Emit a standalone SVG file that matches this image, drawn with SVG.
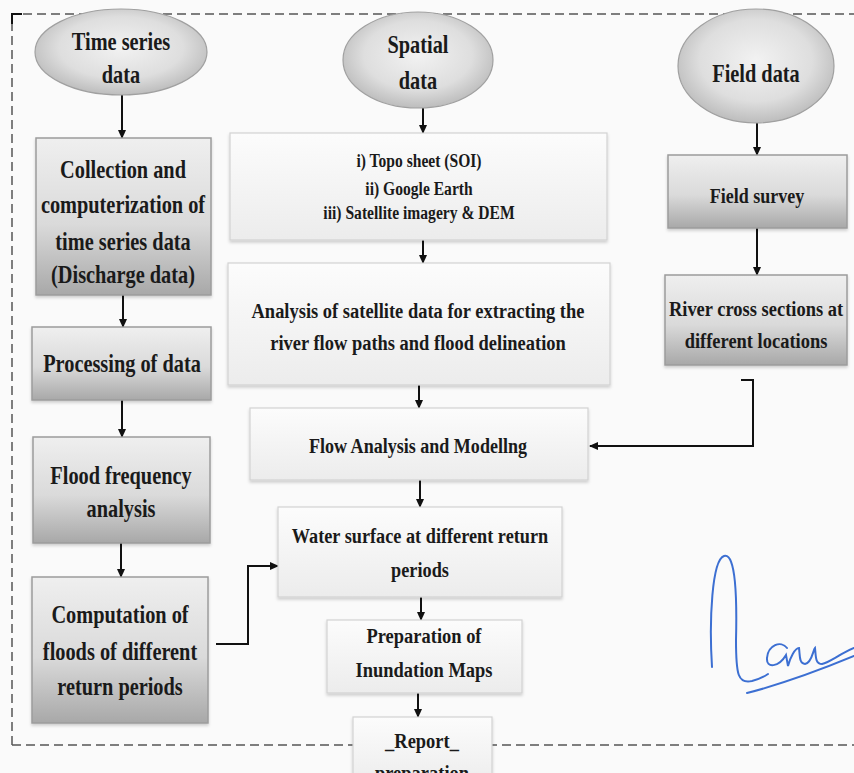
<svg xmlns="http://www.w3.org/2000/svg" width="854" height="773" viewBox="0 0 854 773">
<defs>
<style>
.t{font-family:"Liberation Serif","Times New Roman",serif;font-weight:bold;fill:#1a1a1a;text-anchor:middle}
.big{font-size:24.5px}
.mid{font-size:22px}
.sm{font-size:19.5px}
.bx{fill:url(#gBox);stroke:#9c9c9c;stroke-width:1.5;filter:url(#sh)}
.lt{fill:url(#gLight);stroke:#d2d2d2;stroke-width:1.2;filter:url(#sh)}
.el{fill:url(#gEll);stroke:#a0a0a0;stroke-width:1.2}
.c{fill:none;stroke:#111;stroke-width:2;marker-end:url(#ah)}
.frame{fill:none;stroke:#555;stroke-width:1.5;stroke-dasharray:9 5}
</style>
<linearGradient id="gBox" x1="0" y1="0" x2="0" y2="1">
<stop offset="0" stop-color="#efefef"/>
<stop offset="0.55" stop-color="#dadada"/>
<stop offset="1" stop-color="#a8a8a8"/>
</linearGradient>
<linearGradient id="gLight" x1="0" y1="0" x2="0" y2="1">
<stop offset="0" stop-color="#fcfcfc"/>
<stop offset="1" stop-color="#ececec"/>
</linearGradient>
<radialGradient id="gEll" cx="0.5" cy="0.45" r="0.6">
<stop offset="0" stop-color="#f2f2f2"/>
<stop offset="0.6" stop-color="#dedede"/>
<stop offset="1" stop-color="#b4b4b4"/>
</radialGradient>
<filter id="sh" x="-5%" y="-5%" width="110%" height="115%">
<feDropShadow dx="0" dy="2" stdDeviation="1.5" flood-color="#000" flood-opacity="0.18"/>
</filter>
<marker id="ah" markerUnits="userSpaceOnUse" markerWidth="9" markerHeight="8" refX="8" refY="4" orient="auto">
<path d="M0,0 L9,4 L0,8 z" fill="#111"/>
</marker>
</defs>
<rect width="854" height="773" fill="#fafafa"/>
<path class="frame" d="M12 745 V14 H854 M12 745 H854"/>
<path d="M12 24 V14 H22" fill="none" stroke="#111" stroke-width="2"/>

<g id="connectors">
<path class="c" d="M122 95 V138"/>
<path class="c" d="M123 295 V327"/>
<path class="c" d="M122 400 V437"/>
<path class="c" d="M121 543 V577"/>
<path class="c" d="M216 644 H248 V566 H278"/>
<path class="c" d="M423 108 V133"/>
<path class="c" d="M423 240 V263"/>
<path class="c" d="M419 385 V408"/>
<path class="c" d="M420 480 V507"/>
<path class="c" d="M421 597 V620"/>
<path class="c" d="M418 693 V717"/>
<path class="c" d="M757 123 V155"/>
<path class="c" d="M757 228 V275"/>
<path class="c" d="M741 380 H753 V446 H590"/>
</g>

<g id="time-series">
<ellipse class="el" cx="121" cy="52" rx="86" ry="43"/>
<text class="t big" transform="translate(121,0) scale(0.83,1)"><tspan x="0" y="50">Time series</tspan><tspan x="0" y="83">data</tspan></text>
</g>
<g id="collection">
<rect class="bx" x="36" y="138" width="175" height="157"/>
<text class="t big" transform="translate(123,0) scale(0.83,1)"><tspan x="0" y="178">Collection and</tspan><tspan x="0" y="213">computerization of</tspan><tspan x="0" y="250">time series data</tspan><tspan x="0" y="283">(Discharge data)</tspan></text>
</g>
<g id="processing">
<rect class="bx" x="32" y="327" width="179" height="73"/>
<text class="t big" transform="translate(122,0) scale(0.83,1)"><tspan x="0" y="372">Processing of data</tspan></text>
</g>
<g id="flood-frequency">
<rect class="bx" x="33" y="437" width="177" height="106"/>
<text class="t big" transform="translate(121,0) scale(0.83,1)"><tspan x="0" y="484">Flood frequency</tspan><tspan x="0" y="517">analysis</tspan></text>
</g>
<g id="computation">
<rect class="bx" x="32" y="577" width="176" height="146"/>
<text class="t big" transform="translate(120,0) scale(0.83,1)"><tspan x="0" y="623">Computation of</tspan><tspan x="0" y="660">floods of different</tspan><tspan x="0" y="695">return periods</tspan></text>
</g>

<g id="spatial">
<ellipse class="el" cx="418" cy="60" rx="75" ry="48"/>
<text class="t big" transform="translate(418,0) scale(0.83,1)"><tspan x="0" y="53">Spatial</tspan><tspan x="0" y="89">data</tspan></text>
</g>
<g id="sources">
<rect class="lt" x="230" y="133" width="377" height="107"/>
<text class="t sm" transform="translate(419,0) scale(0.8,1)"><tspan x="0" y="167">i) Topo sheet (SOI)</tspan><tspan x="0" y="195">ii) Google Earth</tspan><tspan x="0" y="219">iii) Satellite imagery &amp; DEM</tspan></text>
</g>
<g id="analysis">
<rect class="lt" x="228" y="263" width="382" height="122"/>
<text class="t mid" transform="translate(418,0) scale(0.84,1)"><tspan x="0" y="318">Analysis of satellite data for extracting the</tspan><tspan x="0" y="350">river flow paths and flood delineation</tspan></text>
</g>
<g id="flow-analysis">
<rect class="lt" x="250" y="408" width="338" height="72"/>
<text class="t mid" transform="translate(418,0) scale(0.82,1)"><tspan x="0" y="453">Flow Analysis and Modellng</tspan></text>
</g>
<g id="water-surface">
<rect class="lt" x="278" y="507" width="284" height="90"/>
<text class="t mid" transform="translate(420,0) scale(0.83,1)"><tspan x="0" y="543">Water surface at different return</tspan><tspan x="0" y="577">periods</tspan></text>
</g>
<g id="inundation">
<rect class="lt" x="327" y="620" width="195" height="73"/>
<text class="t mid" transform="translate(424,0) scale(0.84,1)"><tspan x="0" y="643">Preparation of</tspan><tspan x="0" y="677">Inundation Maps</tspan></text>
</g>
<g id="report">
<rect class="lt" x="353" y="717" width="139" height="70"/>
<text class="t mid" transform="translate(422,0) scale(0.84,1)"><tspan x="0" y="748">_Report_</tspan><tspan x="0" y="780">preparation</tspan></text>
</g>

<g id="field-data">
<ellipse class="el" cx="756" cy="66" rx="78" ry="57"/>
<text class="t big" transform="translate(756,0) scale(0.83,1)"><tspan x="0" y="82">Field data</tspan></text>
</g>
<g id="field-survey">
<rect class="bx" x="668" y="155" width="179" height="73"/>
<text class="t mid" transform="translate(757,0) scale(0.82,1)"><tspan x="0" y="203">Field survey</tspan></text>
</g>
<g id="river-cross">
<rect class="bx" x="665" y="275" width="182" height="90"/>
<text class="t mid" transform="translate(756,0) scale(0.84,1)"><tspan x="0" y="316">River cross sections at</tspan><tspan x="0" y="348">different locations</tspan></text>
</g>

<g id="signature" fill="none" stroke="#3c6fd2" stroke-width="2" stroke-linecap="round">
<path d="M712 667 C709 620 712 560 724 556 C736 552 737 600 736 640 C736 675 738 684 752 681 C760 679 765 676 768 674"/>
<path d="M787 648 C781 640 768 645 767 658 C766 669 779 667 786 655 L788 666 C790 658 795 648 799 648 C800 655 799 664 805 664 C812 663 813 650 815 648 C816 656 815 664 822 664 C830 662 838 655 854 648"/>
<path d="M747 693 C790 682 825 668 854 656"/>
</g>
</svg>
